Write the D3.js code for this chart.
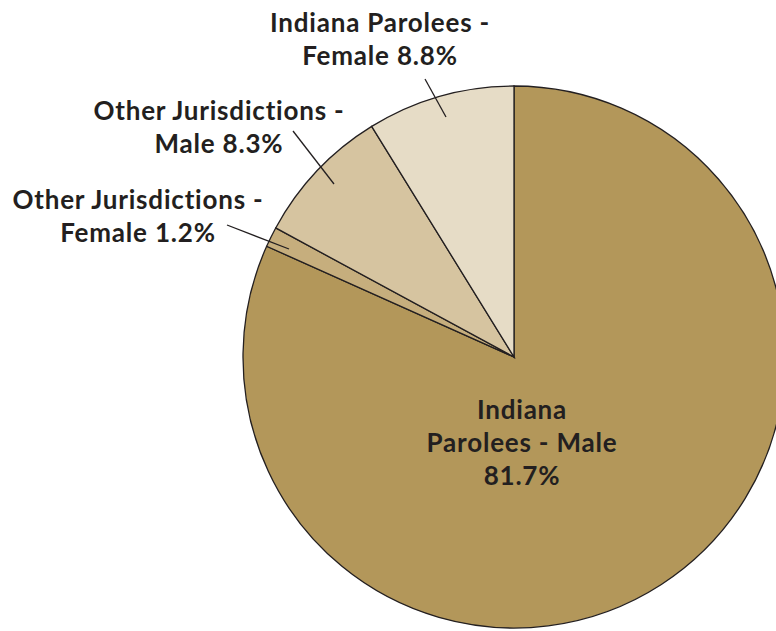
<!DOCTYPE html>
<html><head><meta charset="utf-8">
<script src="https://cdn.jsdelivr.net/npm/d3@7"></script>
<style>body{margin:0;background:#fff}svg{display:block}</style>
</head><body>
<svg id="c" width="776" height="631"></svg>
<script>
const categories = ["Indiana Parolees - Male", "Other Jurisdictions - Female", "Other Jurisdictions - Male", "Indiana Parolees - Female"];
const values = [81.7, 1.2, 8.3, 8.8];
const colors = ["#b3975a", "#c6ae7d", "#d6c4a0", "#e6dcc6"];
const labelLines = [["Indiana", "Parolees - Male", "81.7%"], ["Other Jurisdictions -", "Female 1.2%"], ["Other Jurisdictions -", "Male 8.3%"], ["Indiana Parolees -", "Female 8.8%"]];

const svg = d3.select("#c");
const cx = 514, cy = 357, r = 271;
const g = svg.append("g").attr("transform", `translate(${cx},${cy})`);
const pie = d3.pie().sort(null).value(d => d)(values);
const arc = d3.arc().innerRadius(0).outerRadius(r);
g.selectAll("path").data(pie).join("path")
  .attr("d", arc).attr("fill", (d, i) => colors[i])
  .attr("stroke", "#231f20").attr("stroke-width", 1.3);

const labelPos = [[522, 419], [138, 209], [219, 120], [380, 32]];
const lineH = 33;
const leaders = [null, [[227, 225], [289, 249]], [[293, 131], [334, 184]], [[425, 79], [446, 117]]];
const font = "Lato, 'Open Sans', sans-serif";
labelLines.forEach((lines, i) => {
  const t = svg.append("text").attr("text-anchor", "middle")
    .attr("font-family", font).attr("font-weight", 700).attr("font-size", 26)
    .attr("letter-spacing", "0.8px")
    .attr("fill", "#231f20");
  lines.forEach((s, j) => t.append("tspan").attr("x", labelPos[i][0]).attr("y", labelPos[i][1] + j * lineH).text(s));
  if (leaders[i]) {
    svg.append("line").attr("x1", leaders[i][0][0]).attr("y1", leaders[i][0][1])
      .attr("x2", leaders[i][1][0]).attr("y2", leaders[i][1][1])
      .attr("stroke", "#231f20").attr("stroke-width", 1.3);
  }
});
</script>
</body></html>
